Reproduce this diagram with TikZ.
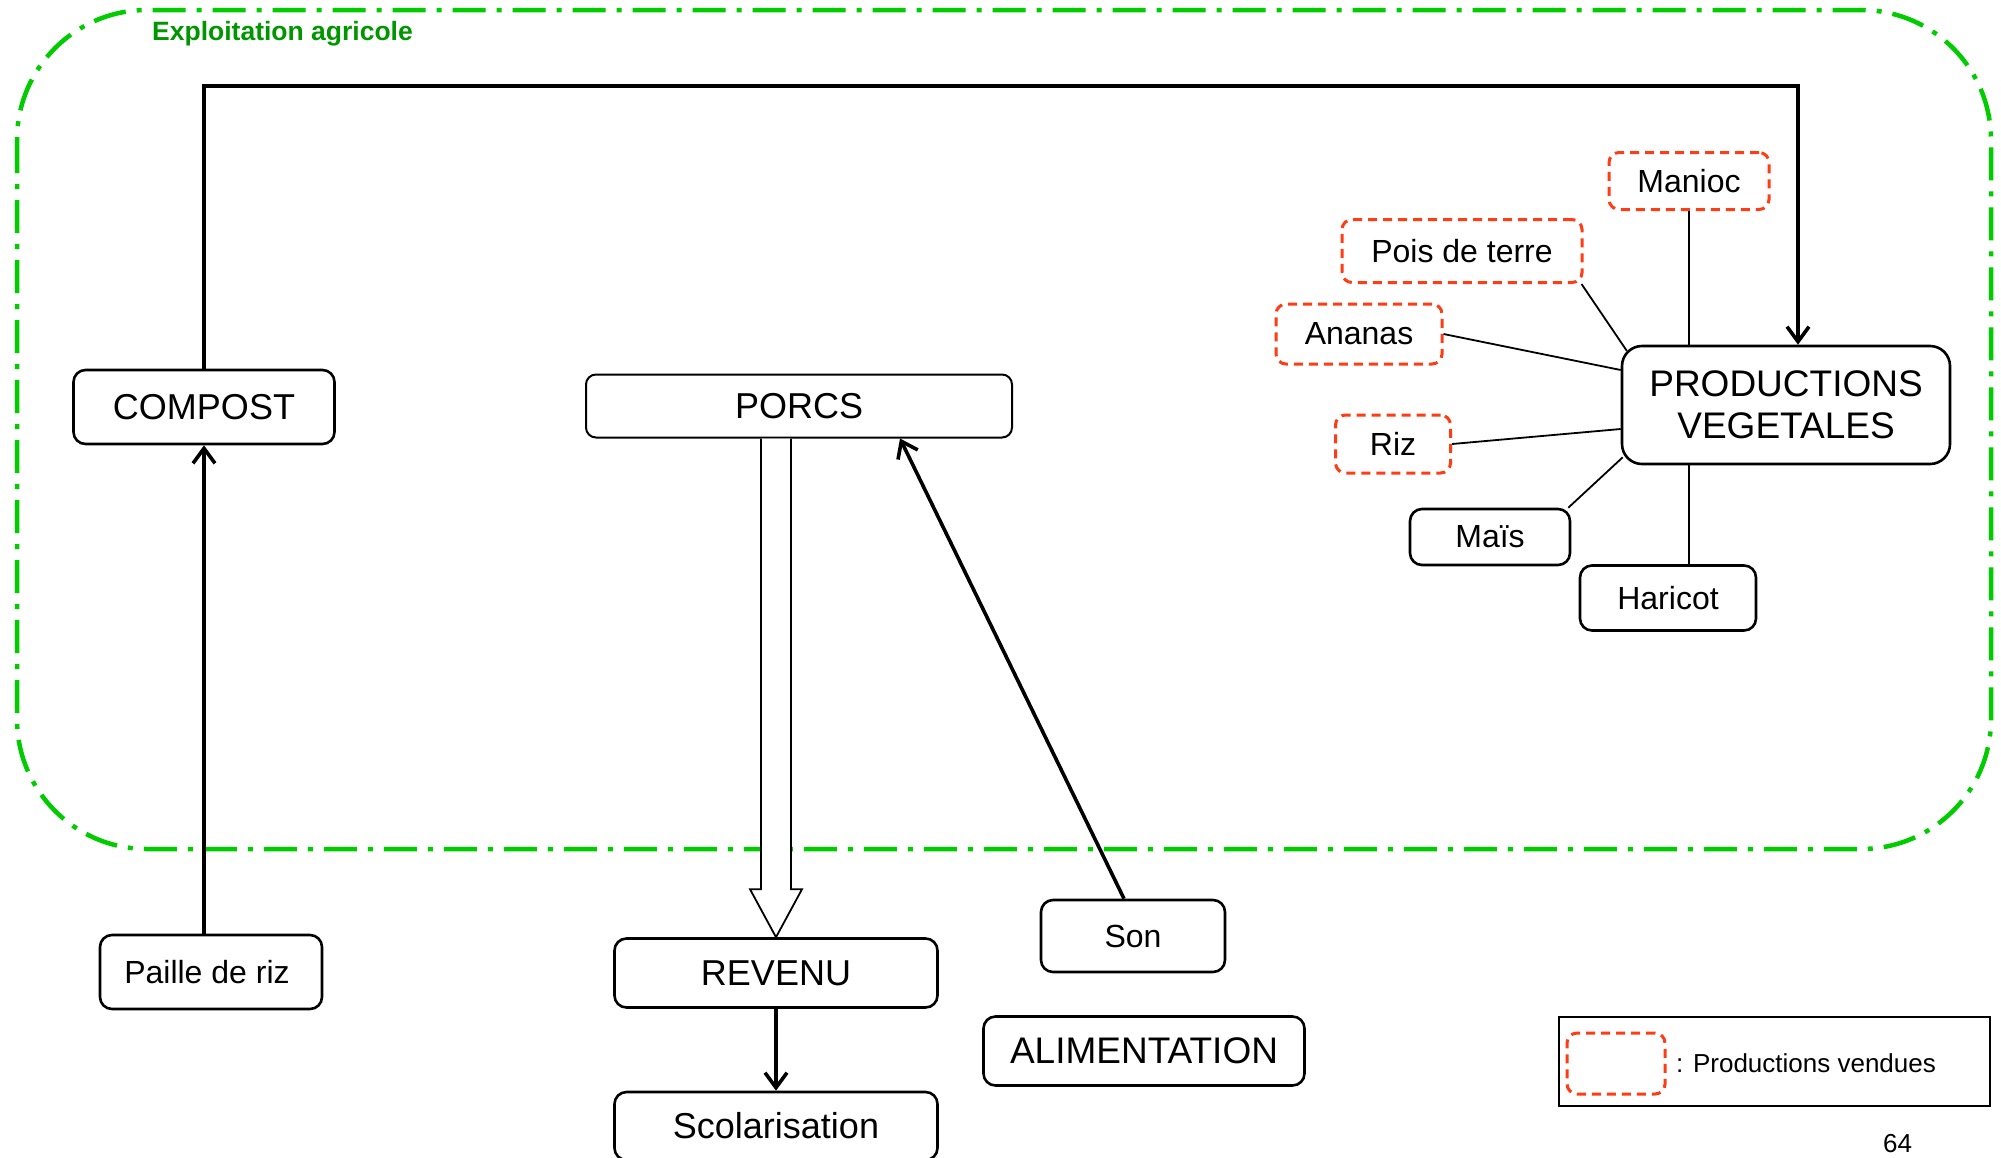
\documentclass[tikz,border=0pt]{standalone}
\usepackage{fontspec}
\setmainfont{Liberation Sans}
\usetikzlibrary{arrows.meta,calc}
\definecolor{zone}{RGB}{0,204,0}
\definecolor{zonetitle}{RGB}{0,150,0}
\definecolor{sold}{RGB}{255,60,20}

\begin{document}
\begin{tikzpicture}[x=1pt,y=-1pt,
  box/.style={draw=black, line width=2.6pt, rounded corners=12pt, fill=white, inner sep=0pt, align=center},
  big/.style={font=\fontsize{36}{42}\selectfont},
  small/.style={font=\fontsize{32}{38}\selectfont},
  soldbox/.style={draw=sold, line width=3pt, dash pattern=on 9pt off 6pt, rounded corners=10pt, fill=white, inner sep=0pt, font=\fontsize{32}{38}\selectfont},
  arrowlink/.style={line width=3.6pt, -{Straight Barb[length=15pt,width=22pt,line width=3.6pt]}},
  spoke/.style={line width=1.8pt}
]
\useasboundingbox (0,0) rectangle (2001,1157);
\fill[white] (0,0) rectangle (2001,1157);

% farm boundary
\draw[zone, line width=4.5pt, dash pattern=on 33pt off 11pt on 5pt off 11pt, rounded corners=130pt]
  (17,10) rectangle (1991,849);
\node[anchor=west, inner sep=0pt, text=zonetitle, font=\bfseries\fontsize{26.5}{30}\selectfont] (title) at (152,34) {Exploitation agricole};

% main boxes
\node[box, big, minimum width=261pt, minimum height=74pt] (compost) at (204,407) {COMPOST};
\node[box, big, line width=2pt, rounded corners=10pt, minimum width=426pt, minimum height=63pt] (porcs) at (799,406) {PORCS};
\node[box, font=\fontsize{37}{42}\selectfont, rounded corners=20pt, minimum width=328pt, minimum height=118pt] (prod) at (1786,405) {PRODUCTIONS\\VEGETALES};

% crops
\node[soldbox, minimum width=160pt, minimum height=57pt] (manioc) at (1689,181) {Manioc};
\node[soldbox, minimum width=240pt, minimum height=63pt] (pois) at (1462,251) {Pois de terre};
\node[soldbox, minimum width=166pt, minimum height=60pt] (ananas) at (1359,334) {Ananas};
\node[soldbox, minimum width=115pt, minimum height=58pt] (riz) at (1393,444) {Riz};
\node[box, small, minimum width=160pt, minimum height=56pt] (mais) at (1490,537) {Maïs};
\node[box, small, minimum width=176pt, minimum height=65pt] (haricot) at (1668,598) {Haricot};

% outside the farm
\node[box, small, minimum width=222pt, minimum height=74pt] (paille) at (211,972) {Paille de riz\hspace{8pt}};
\node[box, big, minimum width=323pt, minimum height=69pt] (rev) at (776,973) {REVENU};
\node[box, big, minimum width=323pt, minimum height=68pt] (scol) at (776,1126) {Scolarisation};
\node[box, small, minimum width=184pt, minimum height=72pt] (son) at (1133,936) {Son};
\node[box, font=\fontsize{37}{42}\selectfont, minimum width=321pt, minimum height=69pt] (alim) at (1144,1051) {ALIMENTATION};

% compost loop back to the crops
\coordinate (loopL) at (204,86);
\coordinate (loopR) at (1798,86);
\draw[arrowlink] (compost.north) -- (loopL) -- (loopR) -- (loopR |- prod.north);

% straw to compost
\draw[arrowlink] (paille.north -| compost.south) -- (compost.south);

% bran feeds the pigs
\draw[arrowlink] ($(son.north)+(-9,0)$) -- ($(porcs.south)+(101,0)$);

% pigs give income (hollow block arrow)
\coordinate (tip) at (rev.north);
\draw[fill=white, line width=1.8pt, line join=miter]
  ($(tip |- porcs.south)+(-15,0)$) -- ($(tip)+(-15,-48)$) -- ($(tip)+(-26,-48)$) -- (tip)
  -- ($(tip)+(26,-48)$) -- ($(tip)+(15,-48)$) -- ($(tip |- porcs.south)+(15,0)$);

% income to schooling
\draw[arrowlink] (rev.south) -- (scol.north);

% spokes round the crop production box
\draw[spoke] (manioc.south) -- (manioc.south |- prod.north);
\draw[spoke] ($(pois.south east)+(-2,0)$) -- ($(prod.north west)+(6,6)$);
\draw[spoke] (ananas.east) -- ($(prod.west)+(0,-35)$);
\draw[spoke] (riz.east) -- ($(prod.west)+(0,24)$);
\draw[spoke] ($(mais.north east)+(-3,0)$) -- ($(prod.south west)+(2,-8)$);
\draw[spoke] (prod.south -| manioc.south) -- (haricot.north -| manioc.south);

% legend
\node[draw=black, line width=2pt, inner sep=0pt, minimum width=431pt, minimum height=89pt] (legend) at (1774.5,1061.5) {};
\node[soldbox, minimum width=98pt, minimum height=61pt] (legsample) at (1616,1063.5) {};
\node[anchor=west, inner sep=0pt, font=\fontsize{26}{30}\selectfont] (legtext) at (1676,1063) {: Productions vendues};

% page number
\node[anchor=north west, inner sep=0pt, font=\fontsize{26}{30}\selectfont] (page) at (1883,1134) {64};
\end{tikzpicture}
\end{document}
